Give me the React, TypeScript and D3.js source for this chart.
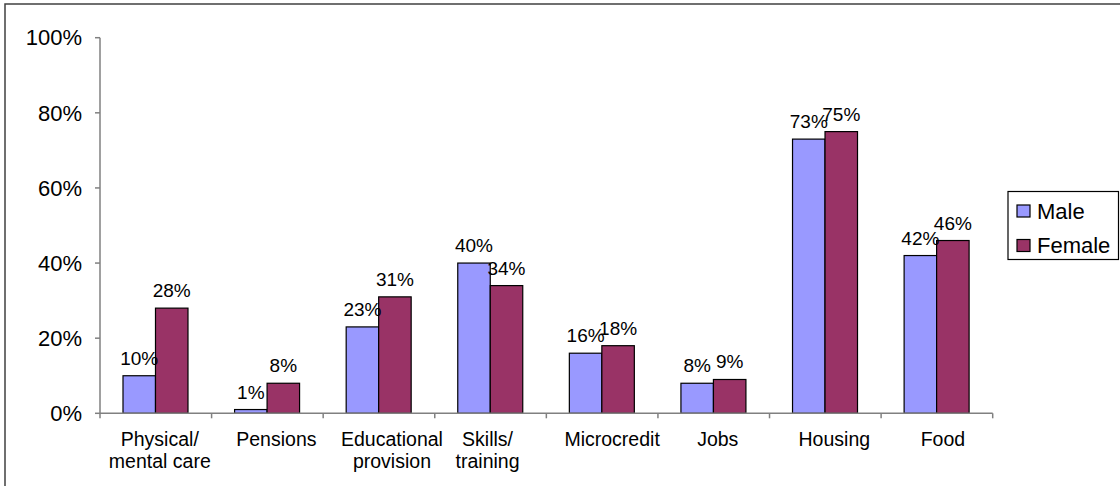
import React from "react";
import * as d3 from "d3";

// 類別與數值
const categories: string[][] = [
    ["Physical/", "mental care"],
    ["Pensions"],
    ["Educational", "provision"],
    ["Skills/", "training"],
    ["Microcredit"],
    ["Jobs"],
    ["Housing"],
    ["Food"],
];
const seriesNames = ["Male", "Female"];
const maleValues = [0.10, 0.01, 0.23, 0.40, 0.16, 0.08, 0.73, 0.42];
const femaleValues = [0.28, 0.08, 0.31, 0.34, 0.18, 0.09, 0.75, 0.46];
const yTicks = [0, 0.2, 0.4, 0.6, 0.8, 1.0];
const colors = ["#9999FF", "#993366"];

const W = 1120;
const H = 486;
const FONT = "'Liberation Sans', Arial, sans-serif";
/** 類別標籤的水平微調 (Excel 排版不完全置中) */
const labelNudge = [4, 9, 13, -3, 10, 4, 9, 6];

export default function App() {
    const series = [maleValues, femaleValues];
    const keys = categories.map((c) => c.join(" "));

    /** 類別軸 */
    const x = d3.scaleBand<string>().domain(keys).range([100, 992.7]).padding(0);
    /** 組內系列 */
    const bw = x.bandwidth();
    const xs = d3.scaleBand<string>().domain(seriesNames).range([23, bw - 23.6]).padding(0);
    /** 數值軸 */
    const y = d3.scaleLinear().domain([0, 1]).range([413.3, 37.7]);
    const fmt = d3.format(".0%");

    return (
        <svg width={W} height={H} style={{ position: "absolute", left: 0, top: 0, background: "#fff" }}
            fontFamily={FONT}>
            {/* 外框 */}
            <rect x={5} y={4} width={W + 10} height={H + 10} fill="none" stroke="#404040" strokeWidth={1.5} />

            {/* Y 軸 */}
            <line x1={100} x2={100} y1={y(1)} y2={y(0)} stroke="#808080" strokeWidth={1.5} />
            {yTicks.map((t) => (
                <g key={t}>
                    <line x1={95} x2={100} y1={y(t)} y2={y(t)} stroke="#808080" strokeWidth={1.5} />
                    <text x={82} y={y(t)} dy="0.35em" textAnchor="end" fontSize={22} fill="#000">{fmt(t)}</text>
                </g>
            ))}

            {/* 長條 */}
            {keys.map((k, i) => (
                <g key={k} transform={`translate(${x(k)},0)`}>
                    {series.map((vals, s) => (
                        <rect key={s} x={xs(seriesNames[s])} y={y(vals[i])} width={xs.bandwidth()}
                            height={y(0) - y(vals[i])} fill={colors[s]} stroke="#000" strokeWidth={1.2} />
                    ))}
                    {series.map((vals, s) => (
                        <text key={"l" + s} x={(xs(seriesNames[s]) ?? 0) + xs.bandwidth() / 2} y={y(vals[i]) - 11}
                            textAnchor="middle" fontSize={19} fill="#000">{fmt(vals[i])}</text>
                    ))}
                </g>
            ))}

            {/* X 軸 */}
            <line x1={100} x2={992.7} y1={y(0)} y2={y(0)} stroke="#808080" strokeWidth={1.5} />
            {d3.range(keys.length + 1).map((i) => {
                const xx = 100 + i * bw;
                return <line key={i} x1={xx} x2={xx} y1={y(0)} y2={y(0) + 5} stroke="#808080" strokeWidth={1.5} />;
            })}
            {categories.map((lines, i) => {
                const cx = (x(keys[i]) ?? 0) + bw / 2 + labelNudge[i];
                return (
                    <text key={i} x={cx} y={446} textAnchor="middle" fontSize={19.5} fill="#000">
                        {lines.map((l, j) => (
                            <tspan key={j} x={cx} dy={j === 0 ? 0 : 22}>{l}</tspan>
                        ))}
                    </text>
                );
            })}

            {/* 圖例 */}
            <rect x={1008} y={191.5} width={110.5} height={68} fill="#fff" stroke="#000" strokeWidth={1.2} />
            {seriesNames.map((n, s) => (
                <g key={n} transform={`translate(1017,${211 + s * 34.5})`}>
                    <rect x={0} y={-6} width={13} height={12} fill={colors[s]} stroke="#000" strokeWidth={1.2} />
                    <text x={20} y={0} dy="0.35em" fontSize={22} fill="#000">{n}</text>
                </g>
            ))}
        </svg>
    );
}
